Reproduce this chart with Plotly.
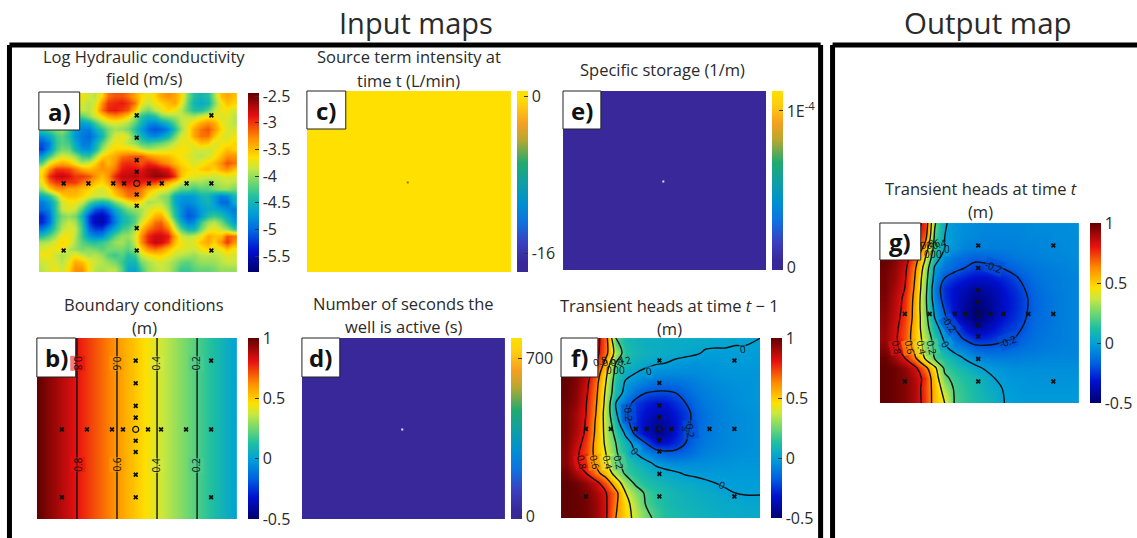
import plotly.graph_objects as go

W, H = 1137, 538

log_k = [
[-3.9,-3.8,-3.7,-3.8,-3.95,-3.8,-3.7,-3.8,-3.9,-3.6,-3.2,-3.1,-3.1,-3.2,-3.4,-3.6,-3.75,-3.6,-3.4,-3.3,-3.4,-3.6,-4.1,-4.4,-4.5,-4.4,-4.0,-3.5,-3.4,-3.5],
[-3.9,-3.7,-3.8,-3.9,-3.85,-3.7,-3.8,-3.9,-3.8,-3.3,-3.0,-2.95,-2.9,-3.0,-3.2,-3.7,-3.85,-3.7,-3.6,-3.5,-3.4,-3.7,-4.2,-4.5,-4.6,-4.5,-4.1,-3.7,-3.5,-3.6],
[-3.95,-3.8,-3.9,-3.8,-3.9,-3.95,-3.85,-3.9,-3.7,-3.2,-2.95,-2.9,-3.0,-3.1,-3.5,-3.95,-4.1,-3.9,-3.75,-3.6,-3.7,-3.9,-4.2,-4.4,-4.4,-4.2,-3.9,-3.7,-3.7,-3.8],
[-4.1,-3.9,-3.8,-3.7,-3.85,-4.1,-4.2,-4.0,-3.8,-3.6,-3.4,-3.3,-3.4,-3.6,-4.0,-4.35,-4.5,-4.4,-4.1,-4.0,-3.95,-3.85,-3.9,-3.95,-3.8,-3.7,-3.7,-3.8,-3.75,-3.9],
[-4.2,-4.1,-3.95,-3.85,-4.1,-4.4,-4.7,-4.6,-4.3,-4.0,-3.85,-3.8,-3.85,-3.95,-4.2,-4.5,-4.8,-4.85,-4.7,-4.5,-4.2,-3.9,-3.75,-3.6,-3.4,-3.3,-3.4,-3.7,-3.8,-3.9],
[-4.3,-4.2,-4.1,-4.0,-4.3,-4.7,-4.85,-4.9,-4.6,-4.35,-4.1,-3.95,-4.0,-4.1,-4.4,-4.7,-5.0,-5.1,-5.05,-4.85,-4.4,-4.0,-3.7,-3.4,-3.2,-3.1,-3.3,-3.6,-3.8,-3.8],
[-4.8,-4.6,-4.3,-4.2,-4.4,-4.75,-4.9,-5.0,-4.8,-4.5,-4.1,-3.8,-3.7,-3.85,-4.2,-4.5,-4.75,-4.85,-4.7,-4.5,-4.1,-3.8,-3.7,-3.4,-3.2,-3.2,-3.5,-3.75,-3.8,-3.7],
[-5.1,-4.9,-4.35,-4.2,-4.3,-4.6,-4.9,-4.9,-4.6,-4.2,-3.9,-3.7,-3.75,-3.9,-4.0,-4.2,-4.3,-4.2,-4.15,-4.0,-3.85,-3.7,-3.75,-3.7,-3.5,-3.55,-3.8,-3.7,-3.7,-3.6],
[-5.2,-4.8,-4.3,-4.1,-4.15,-4.5,-4.75,-4.8,-4.5,-4.0,-3.75,-3.6,-3.6,-3.6,-3.7,-3.85,-3.95,-3.9,-3.85,-3.8,-3.7,-3.65,-3.7,-3.8,-3.8,-3.85,-3.75,-3.65,-3.5,-3.6],
[-4.7,-4.3,-3.95,-3.8,-3.85,-4.0,-4.3,-4.35,-4.0,-3.6,-3.5,-3.4,-3.2,-3.15,-3.1,-3.1,-3.3,-3.4,-3.45,-3.5,-3.6,-3.7,-3.75,-3.85,-3.9,-3.8,-3.7,-3.5,-3.3,-3.3],
[-4.2,-3.7,-3.5,-3.4,-3.5,-3.7,-3.9,-3.8,-3.6,-3.3,-3.5,-3.3,-3.0,-2.95,-3.0,-3.1,-2.95,-3.05,-3.2,-3.3,-3.5,-3.6,-3.7,-3.8,-3.7,-3.6,-3.5,-3.3,-3.1,-3.2],
[-3.7,-3.3,-3.0,-3.0,-3.05,-3.2,-3.4,-3.5,-3.4,-3.3,-3.35,-3.2,-2.9,-2.85,-2.85,-2.9,-2.75,-2.7,-2.8,-2.9,-3.2,-3.5,-3.6,-3.7,-3.55,-3.5,-3.6,-3.4,-3.3,-3.5],
[-3.6,-3.0,-2.8,-2.75,-2.85,-3.0,-3.0,-3.1,-3.3,-3.5,-3.3,-2.95,-2.75,-2.75,-2.7,-2.8,-2.7,-2.6,-2.6,-2.7,-3.0,-3.5,-3.7,-3.7,-3.8,-3.8,-3.85,-3.8,-3.75,-3.8],
[-3.7,-3.2,-3.0,-3.0,-3.0,-3.0,-3.2,-3.3,-3.5,-3.6,-3.4,-3.1,-2.9,-2.85,-2.95,-2.9,-3.0,-3.0,-3.2,-3.4,-3.6,-3.8,-3.95,-4.0,-3.95,-4.05,-3.95,-3.9,-3.85,-3.9],
[-4.0,-3.6,-3.35,-3.3,-3.4,-3.4,-3.5,-3.6,-3.75,-3.8,-3.7,-3.4,-3.2,-3.1,-3.1,-3.2,-3.45,-3.6,-3.7,-3.8,-4.0,-4.2,-4.2,-4.3,-4.2,-4.2,-4.1,-4.0,-4.0,-4.1],
[-4.6,-4.4,-4.0,-3.6,-3.5,-3.5,-3.6,-3.75,-3.85,-3.85,-3.8,-3.6,-3.4,-3.2,-3.2,-3.3,-3.7,-3.85,-4.0,-4.1,-4.6,-4.7,-4.75,-4.7,-4.5,-4.5,-4.7,-4.9,-4.8,-4.5],
[-4.9,-4.7,-4.3,-3.8,-3.7,-3.7,-3.85,-4.2,-4.4,-4.5,-4.4,-4.1,-3.9,-3.7,-3.6,-3.7,-3.95,-3.9,-3.9,-4.1,-4.6,-4.8,-4.8,-4.75,-4.6,-4.5,-4.7,-5.0,-5.0,-4.6],
[-5.0,-4.85,-4.3,-3.85,-3.75,-3.85,-4.2,-4.7,-5.1,-5.2,-5.0,-4.6,-4.3,-4.1,-4.0,-3.95,-3.8,-3.7,-3.7,-4.0,-4.5,-4.8,-5.0,-4.9,-4.7,-4.6,-4.6,-4.7,-4.8,-4.9],
[-5.3,-5.0,-4.35,-4.1,-4.0,-4.1,-4.5,-5.2,-5.45,-5.5,-5.3,-4.85,-4.5,-4.35,-4.2,-3.95,-3.7,-3.45,-3.4,-3.8,-4.4,-4.8,-5.1,-5.0,-4.7,-4.4,-4.3,-4.4,-4.6,-4.8],
[-5.3,-5.0,-4.3,-4.0,-3.85,-3.95,-4.4,-5.2,-5.5,-5.55,-5.3,-4.9,-4.5,-4.4,-4.2,-3.8,-3.5,-3.2,-3.15,-3.5,-4.1,-4.6,-4.9,-4.8,-4.3,-4.0,-3.9,-4.1,-4.4,-4.7],
[-4.9,-4.6,-4.2,-3.9,-3.75,-3.85,-4.3,-5.0,-5.2,-5.2,-4.9,-4.6,-4.3,-4.2,-3.95,-3.5,-3.2,-3.05,-3.0,-3.2,-3.8,-4.2,-4.5,-4.5,-4.1,-3.8,-3.7,-3.85,-4.0,-4.3],
[-4.4,-4.2,-3.95,-3.7,-3.7,-3.9,-4.3,-4.7,-4.85,-4.8,-4.5,-4.2,-4.0,-4.0,-3.8,-3.3,-2.95,-2.8,-2.8,-2.9,-3.4,-3.8,-3.9,-3.85,-3.7,-3.4,-3.5,-3.5,-3.1,-3.2],
[-3.95,-3.9,-3.75,-3.6,-3.7,-3.95,-4.2,-4.35,-4.4,-4.3,-4.2,-4.0,-3.95,-4.1,-3.85,-3.3,-2.95,-2.75,-2.8,-3.0,-3.5,-3.7,-3.8,-3.75,-3.5,-3.4,-3.6,-3.3,-3.0,-3.3],
[-3.8,-3.7,-3.7,-3.7,-3.9,-4.0,-4.1,-4.05,-4.1,-4.2,-4.1,-4.1,-4.1,-4.2,-4.0,-3.6,-3.3,-3.2,-3.3,-3.5,-3.7,-3.75,-3.8,-3.85,-3.7,-3.6,-3.8,-3.7,-3.5,-3.7],
[-3.7,-3.7,-3.85,-3.95,-3.85,-3.7,-3.85,-3.95,-3.9,-4.0,-4.2,-4.3,-4.2,-4.4,-4.3,-3.85,-3.7,-3.6,-3.6,-3.7,-3.85,-3.9,-3.95,-4.0,-3.9,-3.9,-3.9,-3.85,-3.75,-3.8],
[-3.85,-3.75,-3.8,-3.9,-3.7,-3.4,-3.5,-3.7,-3.85,-3.9,-4.0,-4.1,-4.3,-4.5,-4.5,-4.1,-3.95,-3.85,-3.8,-3.9,-4.0,-4.15,-4.2,-4.1,-4.0,-4.0,-4.0,-3.9,-3.85,-3.85],
[-3.9,-3.8,-3.7,-3.85,-3.6,-3.3,-3.3,-3.7,-3.9,-3.95,-3.9,-3.9,-4.2,-4.6,-4.65,-4.3,-4.0,-3.9,-3.85,-3.9,-4.1,-4.3,-4.3,-4.2,-4.15,-4.15,-4.1,-4.0,-4.0,-4.0],
]

bc_x = [0, 2, 4, 6, 8, 10, 12, 14, 16, 18, 20]
bc_y = [0, 20]
bc_heads = [[1.0, .9, .8, .7, .6, .5, .4, .3, .2, .1, 0.0],
            [1.0, .9, .8, .7, .6, .5, .4, .3, .2, .1, 0.0]]

heads_prev = [
[1.0,.99,.96,.88,.67,.2,.1,.07,.05,.05,.04,.04,.04,.03,.03,.02,.02,.01,.01,.0],
[1.0,.98,.95,.86,.66,.33,.12,.08,.06,.05,.04,.03,.02,.01,-.01,-.01,-.01,-.01,-.01,-.01],
[1.0,.97,.92,.82,.54,.2,.1,.05,.03,.01,.0,-.02,-.03,-.04,-.03,-.03,-.02,-.02,-.02,-.02],
[1.0,.96,.88,.72,.44,.15,.04,.0,-.03,-.05,-.06,-.06,-.06,-.06,-.05,-.04,-.03,-.03,-.03,-.03],
[.99,.95,.85,.66,.40,.11,-.02,-.06,-.1,-.13,-.14,-.13,-.11,-.09,-.07,-.06,-.05,-.04,-.04,-.03],
[.99,.94,.83,.64,.37,.09,-.05,-.14,-.2,-.215,-.215,-.2,-.15,-.11,-.09,-.07,-.06,-.05,-.04,-.03],
[.98,.93,.81,.62,.35,.0,-.14,-.24,-.29,-.32,-.31,-.26,-.2,-.14,-.1,-.08,-.07,-.05,-.04,-.03],
[.97,.9,.8,.6,.33,.02,-.18,-.27,-.33,-.37,-.36,-.3,-.24,-.16,-.12,-.09,-.07,-.06,-.05,-.04],
[.97,.9,.79,.58,.34,.09,-.16,-.27,-.36,-.42,-.4,-.32,-.24,-.16,-.12,-.09,-.08,-.06,-.05,-.04],
[.97,.89,.78,.57,.35,.15,-.03,-.25,-.35,-.44,-.41,-.31,-.22,-.15,-.11,-.09,-.07,-.06,-.05,-.04],
[.96,.86,.75,.55,.37,.2,.06,-.05,-.2,-.32,-.32,-.27,-.2,-.14,-.1,-.08,-.07,-.06,-.05,-.04],
[.95,.83,.73,.55,.4,.22,.1,.0,-.07,-.13,-.17,-.17,-.15,-.11,-.08,-.07,-.06,-.05,-.04,-.04],
[.95,.83,.72,.58,.43,.25,.14,.08,.03,-.02,-.05,-.06,-.06,-.05,-.05,-.04,-.04,-.03,-.03,-.03],
[.98,.9,.8,.65,.52,.32,.17,.12,.08,.05,.03,.01,-.01,-.02,-.02,-.02,-.02,-.02,-.02,-.02],
[1.0,.98,.93,.85,.7,.5,.3,.17,.12,.09,.07,.05,.04,.03,.01,.0,-.01,-.01,-.01,-.01],
[1.0,.99,.96,.9,.81,.65,.4,.28,.18,.13,.1,.08,.06,.05,.04,.03,.01,.0,-.005,-.005],
[1.0,.99,.97,.92,.82,.63,.45,.32,.19,.14,.1,.08,.07,.06,.05,.04,.03,.03,.02,.02],
[1.0,.99,.97,.92,.82,.6,.47,.35,.25,.17,.12,.1,.08,.07,.06,.05,.04,.04,.03,.03],
]

heads_now = [
[1.0,.98,.95,.88,.76,.22,.01,-.03,-.05,-.06,-.07,-.07,-.07,-.07,-.07,-.06,-.06,-.06,-.06,-.05],
[1.0,.98,.94,.85,.68,.17,.0,-.03,-.06,-.07,-.08,-.08,-.08,-.08,-.07,-.07,-.07,-.06,-.06,-.06],
[1.0,.97,.92,.83,.53,.14,.0,-.04,-.08,-.09,-.09,-.09,-.09,-.09,-.08,-.08,-.07,-.07,-.06,-.06],
[.99,.95,.87,.7,.42,.08,-.07,-.12,-.15,-.17,-.16,-.15,-.13,-.11,-.1,-.09,-.08,-.07,-.07,-.06],
[.98,.93,.84,.63,.34,-.02,-.12,-.16,-.2,-.24,-.24,-.22,-.19,-.16,-.13,-.11,-.1,-.09,-.08,-.07],
[.97,.92,.82,.6,.3,-.05,-.2,-.26,-.3,-.33,-.33,-.3,-.27,-.22,-.17,-.13,-.11,-.1,-.09,-.08],
[.97,.9,.8,.58,.28,-.1,-.27,-.33,-.37,-.41,-.4,-.37,-.31,-.26,-.2,-.15,-.12,-.1,-.09,-.08],
[.96,.88,.77,.56,.26,-.09,-.26,-.34,-.4,-.45,-.44,-.39,-.33,-.28,-.22,-.16,-.13,-.11,-.09,-.08],
[.95,.87,.76,.55,.26,-.04,-.22,-.34,-.42,-.48,-.46,-.4,-.33,-.28,-.22,-.16,-.13,-.11,-.09,-.08],
[.94,.86,.74,.55,.28,.0,-.17,-.32,-.41,-.48,-.45,-.38,-.31,-.26,-.21,-.15,-.13,-.11,-.09,-.08],
[.93,.84,.72,.53,.3,.06,-.08,-.2,-.32,-.4,-.38,-.32,-.26,-.23,-.19,-.14,-.12,-.1,-.09,-.08],
[.92,.83,.71,.52,.34,.13,-.03,-.14,-.22,-.28,-.28,-.25,-.22,-.2,-.16,-.13,-.11,-.1,-.09,-.08],
[.95,.85,.72,.55,.36,.17,.03,-.06,-.1,-.16,-.17,-.17,-.16,-.14,-.12,-.11,-.1,-.09,-.08,-.08],
[.99,.91,.8,.63,.39,.19,.12,.06,-.01,-.06,-.08,-.09,-.09,-.09,-.08,-.08,-.07,-.07,-.07,-.07],
[1.0,.98,.93,.84,.66,.44,.17,.12,.08,.03,-.01,-.03,-.04,-.05,-.05,-.05,-.05,-.05,-.05,-.05],
[1.0,.98,.95,.88,.76,.5,.23,.16,.12,.09,.05,.0,-.02,-.03,-.03,-.04,-.04,-.04,-.04,-.04],
[1.0,.98,.95,.89,.74,.53,.32,.18,.14,.1,.06,.03,-.01,-.02,-.03,-.03,-.03,-.03,-.03,-.03],
[1.0,.98,.95,.89,.75,.53,.4,.19,.15,.11,.08,.05,.0,-.01,-.02,-.02,-.02,-.02,-.02,-.02],
]

# Heads grids: cell centres, with the outer rows/columns pinned on the map edge for the contour lines
grid_x = [.5, 1.5, 2.5, 3.5, 4.5, 5.5, 6.5, 7.5, 8.5, 9.5, 10.5, 11.5, 12.5, 13.5, 14.5, 15.5, 16.5, 17.5, 18.5, 19.5]
grid_y = [.56, 1.67, 2.78, 3.89, 5.0, 6.11, 7.22, 8.33, 9.44, 10.56, 11.67, 12.78, 13.89, 15.0, 16.11, 17.22, 18.33, 19.44]
edge_x = [0] + grid_x[1:-1] + [20]
edge_y = [0] + grid_y[1:-1] + [20]

source_term = [[0, 0], [0, 0]]
active_seconds = [[0, 0], [0, 0]]
specific_storage = [[0, 0], [0, 0]]
flat_x = [5, 15]
flat_y = [5, 15]

well_x = [2.5, 5.0, 7.5, 8.6, 11.1, 12.4, 14.9, 17.4, 9.87, 9.87, 9.87, 9.87, 9.87, 9.87, 9.87, 9.87, 2.5, 17.4, 2.5, 17.4]
well_y = [10.1, 10.1, 10.1, 10.1, 10.1, 10.1, 10.1, 10.1, 2.5, 5.0, 7.5, 8.8, 11.35, 12.6, 15.1, 17.6, 2.5, 2.5, 17.6, 17.6]
pump_x = [9.87]
pump_y = [10.1]

titles = [
    ("Input maps", 417, 22, 29), ("Output map", 991, 22, 29.5),
    ("Log Hydraulic conductivity", 145, 57, 16.5), ("field (m/s)", 145, 79, 16.5),
    ("Source term intensity at", 410, 57, 16.5), ("time t (L/min)", 410, 80, 16.5),
    ("Specific storage (1/m)", 665, 70, 16.5),
    ("Boundary conditions", 145, 304, 16.5), ("(m)", 145, 327, 16.5),
    ("Number of seconds the", 405, 303, 16.5), ("well is active (s)", 405, 326, 16.5),
    ("Transient heads at time <i>t</i> − 1", 672, 305, 16.5), ("(m)", 672, 328, 16.5),
    ("Transient heads at time <i>t</i>", 984, 189, 16.5), ("(m)", 984, 212, 16.5),
]

k_ticks = [-2.5, -3, -3.5, -4, -4.5, -5, -5.5]
k_labels = ["-2.5", "-3", "-3.5", "-4", "-4.5", "-5", "-5.5"]
head_ticks = [1, 0.5, 0, -0.5]
head_labels = ["1", "0.5", "0", "-0.5"]

# Contour labels: text, page x, page y, angle, tint of the map under the label
L8, L6, L4, L2, L0, LM = ("rgba(232,16,16,.55)", "rgba(255,154,0,.55)", "rgba(216,232,64,.55)",
                          "rgba(80,204,144,.55)", "rgba(10,158,220,.55)", "rgba(0,80,216,.55)")
NONE = "rgba(0,0,0,0)"
labels_b = [
    ("0.8", 78, 363, 90, L8), ("0.6", 117, 363, 90, L6), ("0.4", 157, 363, -90, L4), ("0.2", 197, 363, -90, L2),
    ("0.8", 78, 465, -90, L8), ("0.6", 117, 465, -90, L6), ("0.4", 157, 465, -90, L4), ("0.2", 197, 465, -90, L2),
]
labels_f = [
    ("0.8", 584, 462, 78, L8), ("0.6", 597, 462, 78, L6), ("0.4", 610, 462, 78, L4), ("0.2", 621, 462, 78, L2),
    ("0", 651, 371, -8, L0), ("0", 637, 451, 50, L0), ("0", 725, 485, 25, L0), ("0", 746, 349, -5, L0),
    ("-0.2", 631, 413, 85, LM), ("-0.2", 693, 429, 85, LM),
    ("0.8", 602, 361, -15, NONE), ("0.6", 611, 361, -15, NONE), ("0.4", 619, 361, -15, NONE), ("0.2", 626, 361, -15, NONE),
    ("0", 611, 370, 0, NONE), ("0", 618, 370, 0, NONE), ("0", 624, 370, 0, NONE),
]
labels_g = [
    ("0.8", 900, 347, 78, L8), ("0.6", 913, 347, 78, L6), ("0.4", 925, 347, 78, L4), ("0.2", 935, 347, 78, L2),
    ("0", 950, 249, 0, L0), ("-0.2", 998, 267, 20, LM), ("-0.2", 953, 324, 55, LM),
    ("-0.2", 1012, 341, -20, LM), ("0", 949, 344, 60, L0),
    ("0.8", 930, 244, -15, NONE), ("0.6", 936, 244, -15, NONE), ("0.4", 942, 244, -15, NONE),
    ("0", 930, 254, 0, NONE), ("0", 936, 254, 0, NONE), ("0", 942, 254, 0, NONE),
]

JET = [[0, "#00006e"], [.12, "#0010d0"], [.22, "#0060e0"], [.33, "#00a0d8"], [.42, "#20c0a0"],
       [.5, "#70d870"], [.58, "#c8e840"], [.64, "#ffe000"], [.75, "#ff8c00"], [.87, "#e81010"], [1, "#600000"]]
PARULA = [[0, "#38289a"], [.05, "#38289a"], [.16, "#3a40c0"], [.27, "#1070e0"], [.38, "#0090d0"],
          [.5, "#10a0a0"], [.6, "#20aa70"], [.73, "#b8a830"], [.82, "#f5a020"], [.92, "#ffcc10"], [1, "#ffe000"]]
PARULA_C = [[0, "#38289a"], [.05, "#38289a"], [.16, "#3a40c0"], [.27, "#1070e0"], [.38, "#0090d0"],
            [.5, "#10a0a0"], [.6, "#20aa70"], [.73, "#b8a830"], [.82, "#f5a020"], [.92, "#ffcc10"], [.96, "#ffe000"], [1, "#ffe000"]]
FONT = "Open Sans"
TXT = "#2a2a2a"

panels = {
    "a": (39, 238, 93, 272),
    "b": (37, 238, 338, 519),
    "c": (308, 513, 91, 272),
    "d": (303, 507, 338, 519),
    "e": (565, 769, 91, 270),
    "f": (563, 763, 338, 518),
    "g": (883, 1083, 223, 403),
}
label_boxes = {
    "a": (39, 80, 92, 130), "b": (37, 76, 338, 377), "c": (308, 347, 91, 129),
    "d": (303, 341, 338, 377), "e": (565, 603, 91, 129), "f": (563, 600, 338, 377), "g": (883, 924, 223, 260),
}
bars = {
    "a": (249, 93, 272), "b": (249, 338, 519), "c": (519, 91, 272), "d": (513, 338, 519),
    "e": (775, 91, 270), "f": (774, 338, 518), "g": (1094, 223, 403),
}

fig = go.Figure()
layout = {}
ax_ids = {}
for i, (k, (x0, x1, y0, y1)) in enumerate(panels.items(), start=1):
    layout[f"xaxis{i}"] = dict(domain=[x0 / W, x1 / W], range=[0, 20], visible=False, fixedrange=True)
    layout[f"yaxis{i}"] = dict(domain=[1 - y1 / H, 1 - y0 / H], range=[20, 0], visible=False, fixedrange=True)
    ax_ids[k] = (f"x{i}", f"y{i}")


def cbar(k, tickvals, ticktext):
    x, y0, y1 = bars[k]
    return dict(x=x / W, xanchor="left", y=1 - y0 / H, yanchor="top", len=(y1 - y0) / H, lenmode="fraction",
                thickness=11, thicknessmode="pixels", xpad=0, ypad=0, outlinewidth=0,
                tickmode="array", tickvals=tickvals, ticktext=ticktext, ticks="inside", ticklen=4,
                tickcolor="#333333", tickwidth=1, tickfont=dict(family=FONT, size=16, color=TXT))


def heat(k, z, x, y, zmin, zmax, scale, ticks, labels, smooth="best"):
    xa, ya = ax_ids[k]
    fig.add_trace(go.Heatmap(z=z, x=x, y=y, zmin=zmin, zmax=zmax, colorscale=scale, zsmooth=smooth,
                             colorbar=cbar(k, ticks, labels), xaxis=xa, yaxis=ya, hoverinfo="skip"))


def contour(k, z, x, y, start):
    xa, ya = ax_ids[k]
    fig.add_trace(go.Contour(z=z, x=x, y=y, showscale=False, autocontour=False,
                             contours=dict(start=start, end=0.8, size=0.2, coloring="none", showlabels=False),
                             line=dict(color="#111111", width=1.4, smoothing=1), xaxis=xa, yaxis=ya, hoverinfo="skip"))


def wells(k):
    xa, ya = ax_ids[k]
    fig.add_trace(go.Scatter(x=well_x, y=well_y, mode="markers", xaxis=xa, yaxis=ya, showlegend=False, hoverinfo="skip",
                             marker=dict(symbol="x", size=4.5, color="#111111", line=dict(width=0))))
    fig.add_trace(go.Scatter(x=pump_x, y=pump_y, mode="markers", xaxis=xa, yaxis=ya, showlegend=False, hoverinfo="skip",
                             marker=dict(symbol="circle-open", size=6, color="#111111", line=dict(width=1.2))))


def dot(k, colour):
    xa, ya = ax_ids[k]
    fig.add_trace(go.Scatter(x=pump_x, y=pump_y, mode="markers", xaxis=xa, yaxis=ya, showlegend=False, hoverinfo="skip",
                             marker=dict(symbol="square", size=2, color=colour, line=dict(width=0))))


heat("a", log_k, [.333 + .6667 * i for i in range(30)], [.37 + .7407 * j for j in range(27)], -5.8, -2.44, JET, k_ticks, k_labels)
wells("a")
heat("b", bc_heads, bc_x, bc_y, -0.5, 1.0, JET, head_ticks, head_labels)
contour("b", bc_heads, bc_x, bc_y, 0.2)
wells("b")
heat("c", source_term, flat_x, flat_y, -17.9, 0.6, PARULA_C, [0, -16], ["0", "-16"], smooth=False)
dot("c", "#8a7a20")
heat("d", active_seconds, flat_x, flat_y, -13, 789, PARULA, [700, 0], ["700", "0"], smooth=False)
dot("d", "#e8e0f0")
heat("e", specific_storage, flat_x, flat_y, -0.019e-4, 1.128e-4, PARULA, [1e-4, 0], ["1E<sup>-4</sup>", "0"], smooth=False)
dot("e", "#e8e0c0")
heat("f", heads_prev, grid_x, grid_y, -0.5, 1.0, JET, head_ticks, head_labels)
contour("f", heads_prev, edge_x, edge_y, -0.2)
wells("f")
heat("g", heads_now, grid_x, grid_y, -0.5, 1.0, JET, head_ticks, head_labels)
contour("g", heads_now, edge_x, edge_y, -0.2)
wells("g")


def px(x):
    return x / W


def py(y):
    return 1 - y / H


shapes = []
annotations = []
for (x_a, y_a, x_b, y_b) in [(9.5, 45, 9.5, 545), (9.5, 45, 823.5, 45), (823.5, 45, 823.5, 545),
                             (835.5, 45, 835.5, 545), (835.5, 45, 1150, 45)]:
    shapes.append(dict(type="line", xref="paper", yref="paper", x0=px(x_a), x1=px(x_b), y0=py(y_a), y1=py(y_b),
                       line=dict(color="black", width=5), layer="above"))
for group in (labels_b, labels_f, labels_g):
    for text, x, y, angle, bg in group:
        annotations.append(dict(text=text, xref="paper", yref="paper", x=px(x), y=py(y), xanchor="center",
                                yanchor="middle", showarrow=False, textangle=angle, bgcolor=bg, borderpad=0,
                                font=dict(family=FONT, size=10, color="#111111")))
for k, (x0, x1, y0, y1) in label_boxes.items():
    shapes.append(dict(type="rect", xref="paper", yref="paper", x0=px(x0), x1=px(x1), y0=py(y0), y1=py(y1),
                       fillcolor="white", line=dict(color="#222222", width=1), layer="above"))
    annotations.append(dict(text=f"<b>{k})</b>", xref="paper", yref="paper", x=px((x0 + x1) / 2), y=py((y0 + y1) / 2),
                            xanchor="center", yanchor="middle", showarrow=False,
                            font=dict(family=FONT, size=24, color="#111111")))
for text, x, y, size in titles:
    annotations.append(dict(text=text, xref="paper", yref="paper", x=px(x), y=py(y), xanchor="center", yanchor="middle",
                            showarrow=False, font=dict(family=FONT, size=size, color=TXT)))

fig.update_layout(width=W, height=H, autosize=False, margin=dict(l=0, r=0, t=0, b=0), paper_bgcolor="white",
                  plot_bgcolor="white", showlegend=False, shapes=shapes, annotations=annotations, **layout)
fig.write_html("out.html", post_script="document.body.style.margin='0';document.documentElement.style.overflow='hidden';",
               config={"displayModeBar": False})
